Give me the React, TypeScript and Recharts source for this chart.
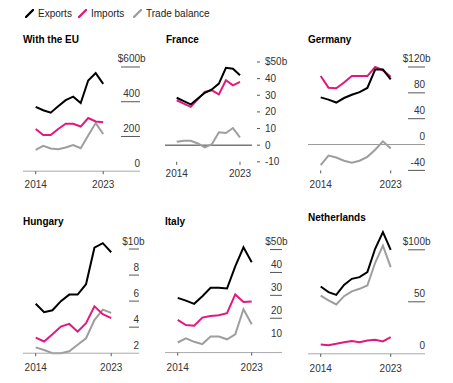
import { LineChart, Line, XAxis, YAxis, ReferenceLine } from 'recharts'

const FONT = '"Liberation Sans", Arial, Helvetica, sans-serif'

const EXPORT_COLOR = '#000000'
const IMPORT_COLOR = '#e2187f'
const BALANCE_COLOR = '#9e9e9e'

const YEARS = [2014, 2015, 2016, 2017, 2018, 2019, 2020, 2021, 2022, 2023]

// With the EU, $b
const EU_EXPORTS = [370, 351, 337, 374, 409, 429, 393, 522, 565, 503]
const EU_IMPORTS = [243, 208, 208, 243, 273, 273, 257, 306, 286, 282]
const EU_BALANCE = [123, 146, 131, 127, 136, 150, 132, 205, 277, 214]

// France
const FR_EXPORTS = [28.5, 26.5, 24.5, 28, 31.5, 33.5, 37, 46.5, 46, 42]
const FR_IMPORTS = [27, 25, 23, 27.5, 32, 33, 30.5, 39, 36, 38]
const FR_BALANCE = [2, 2.6, 2.6, 1, -1.4, 0.6, 7.7, 7.3, 10.3, 4.6]

// Germany
const DE_EXPORTS = [73, 69.5, 65, 72, 77, 81, 87.5, 116, 116, 101]
const DE_IMPORTS = [106, 88, 87, 96, 106, 106, 106, 120, 115, 105]
const DE_BALANCE = [-32, -17, -20, -25, -28, -25, -19, -8, 5, -6]

// Hungary
const HU_EXPORTS = [5.8, 5.15, 5.3, 6.0, 6.5, 6.5, 7.3, 10.1, 10.45, 9.75]
const HU_IMPORTS = [3.2, 2.9, 3.45, 4.05, 4.25, 3.65, 4.3, 5.6, 5.0, 4.7]
const HU_BALANCE = [2.45, 2.25, 2.0, 2.0, 2.15, 2.65, 3.15, 4.55, 5.35, 5.1]

// Italy
const IT_EXPORTS = [28.9, 27.7, 26.3, 29.6, 33.3, 33.3, 33, 42.7, 51, 44.5]
const IT_IMPORTS = [19.3, 17, 16.7, 20.3, 21, 21.3, 22.2, 30.4, 27.1, 27.3]
const IT_BALANCE = [9.4, 11.2, 9.7, 8.7, 12, 12, 10.8, 13, 23.9, 17.4]

// Netherlands
const NL_EXPORTS = [64.7, 59.3, 56.7, 66.3, 72.1, 73.7, 78.5, 101, 117, 100]
const NL_IMPORTS = [9, 8.3, 9.6, 11.2, 12.2, 11.2, 12.8, 13.5, 11.9, 16]
const NL_BALANCE = [56, 51.3, 47.4, 55.4, 60, 62.5, 65.7, 87.5, 104, 83.3]

const EU_TICKS = [0, 200, 400, 600]
const FR_TICKS = [-10, 0, 10, 20, 30, 40, 50]
const DE_TICKS = [-40, 0, 40, 80, 120]
const HU_TICKS = [2, 4, 6, 8, 10]
const IT_TICKS = [10, 20, 30, 40, 50]
const NL_TICKS = [0, 50, 100]

const X_TICKS = [2014, 2023]

const buildRows = (exp: number[], imp: number[], bal: number[]) =>
  YEARS.map((year, i) => ({ year, exports: exp[i], imports: imp[i], balance: bal[i] }))

interface PanelCfg {
  title: string
  titleX: number
  titleY: number
  rows: Array<{ year: number; exports: number; imports: number; balance: number }>
  ticks: number[]
  // layout in page pixels
  L: number
  R: number
  xa: number
  xb: number
  refVal: number
  refPx: number
  minVal: number
  botPx: number
  maxVal: number
  tickStyle: 'under' | 'dash'
  tickLen: number
  bare: number[]
  baseline: boolean
  zeroColor?: string
  labelGap: number
}

const PANELS: PanelCfg[] = [
  {
    title: 'With the EU', titleX: 23, titleY: 40,
    rows: buildRows(EU_EXPORTS, EU_IMPORTS, EU_BALANCE), ticks: EU_TICKS,
    L: 23, R: 140, xa: 35.7, xb: 103.2,
    refVal: 600, refPx: 67.3, minVal: 0, botPx: 171.5, maxVal: 600,
    tickStyle: 'under', tickLen: 19, bare: [0], baseline: true, labelGap: 13,
  },
  {
    title: 'France', titleX: 166, titleY: 39.5,
    rows: buildRows(FR_EXPORTS, FR_IMPORTS, FR_BALANCE), ticks: FR_TICKS,
    L: 165, R: 252, xa: 176.7, xb: 240,
    refVal: 50, refPx: 61.7, minVal: -10, botPx: 161.5, maxVal: 50,
    tickStyle: 'dash', tickLen: 3, bare: [], baseline: false, zeroColor: '#333', labelGap: 11.5,
  },
  {
    title: 'Germany', titleX: 308, titleY: 39.5,
    rows: buildRows(DE_EXPORTS, DE_IMPORTS, DE_BALANCE), ticks: DE_TICKS,
    L: 308, R: 425, xa: 320.7, xb: 390.7,
    refVal: 120, refPx: 67.3, minVal: -40, botPx: 170.7, maxVal: 120,
    tickStyle: 'under', tickLen: 17, bare: [0], baseline: false, zeroColor: '#999', labelGap: 14.3,
  },
  {
    title: 'Hungary', titleX: 23, titleY: 221.7,
    rows: buildRows(HU_EXPORTS, HU_IMPORTS, HU_BALANCE), ticks: HU_TICKS,
    L: 23, R: 139, xa: 35.7, xb: 111.2,
    refVal: 10, refPx: 249.3, minVal: 2, botPx: 353.5, maxVal: 11,
    tickStyle: 'under', tickLen: 10, bare: [2], baseline: true, labelGap: 14.5,
  },
  {
    title: 'Italy', titleX: 165, titleY: 221.7,
    rows: buildRows(IT_EXPORTS, IT_IMPORTS, IT_BALANCE), ticks: IT_TICKS,
    L: 165, R: 282, xa: 177.7, xb: 251.7,
    refVal: 50, refPx: 250, minVal: 5, botPx: 353, maxVal: 52,
    tickStyle: 'under', tickLen: 12, bare: [10], baseline: true, labelGap: 15,
  },
  {
    title: 'Netherlands', titleX: 308, titleY: 217.7,
    rows: buildRows(NL_EXPORTS, NL_IMPORTS, NL_BALANCE), ticks: NL_TICKS,
    L: 308, R: 425, xa: 320.7, xb: 390.7,
    refVal: 100, refPx: 249.3, minVal: 0, botPx: 353.3, maxVal: 120,
    tickStyle: 'under', tickLen: 17, bare: [0], baseline: true, labelGap: 14.7,
  },
]

const PAD_L = 15
const PAD_T = 20
const PAD_R = 44
const Y_W = 1
const X_H = 30

const Panel = ({ cfg }: { cfg: PanelCfg }) => {
  const ppu = (cfg.botPx - cfg.refPx) / (cfg.refVal - cfg.minVal)
  const plotTop = cfg.botPx - (cfg.maxVal - cfg.minVal) * ppu
  const ppy = (cfg.xb - cfg.xa) / 9
  const dMin = 2014 - (cfg.xa - cfg.L) / ppy
  const dMax = 2023 + (cfg.R - cfg.xb) / ppy
  const boxLeft = cfg.L - PAD_L
  const boxTop = plotTop - PAD_T
  const width = cfg.R - cfg.L + PAD_L + PAD_R + Y_W
  const height = cfg.botPx - plotTop + PAD_T + X_H
  const localR = PAD_L + (cfg.R - cfg.L)
  const topTick = cfg.ticks[cfg.ticks.length - 1]

  const renderYTick = (props: any) => {
    const { y, payload } = props
    const v = payload.value
    const isTop = v === topTick
    if (cfg.tickStyle === 'dash') {
      return (
        <g>
          <line x1={localR + 5} x2={localR + 8} y1={y} y2={y} stroke="#555" />
          <text x={localR + 13} y={y} dy="0.35em" fontSize={10} fill="#333" fontFamily={FONT}>
            {isTop ? `$${v}b` : `${v}`}
          </text>
        </g>
      )
    }
    return (
      <g>
        {!cfg.bare.includes(v) && (
          <line x1={localR - cfg.tickLen} x2={localR} y1={y} y2={y} stroke="#555" />
        )}
        <text x={localR} y={y - 4.5} textAnchor="end" fontSize={10} fill="#333" fontFamily={FONT}>
          {isTop ? `$${v}` : `${v}`}
        </text>
        {isTop && (
          <text x={localR} y={y - 4.5} fontSize={10} fill="#333" fontFamily={FONT}>
            b
          </text>
        )}
      </g>
    )
  }

  return (
    <>
      <div
        style={{
          position: 'absolute',
          left: cfg.titleX,
          top: cfg.titleY - 6,
          fontSize: 10,
          lineHeight: '12px',
          fontWeight: 'bold',
          color: '#000',
          whiteSpace: 'nowrap',
        }}
      >
        {cfg.title}
      </div>
      <div style={{ position: 'absolute', left: boxLeft, top: boxTop }}>
        <LineChart
          width={width}
          height={height}
          data={cfg.rows}
          margin={{ top: PAD_T, left: PAD_L, right: PAD_R, bottom: 0 }}
        >
          <XAxis
            type="number"
            dataKey="year"
            domain={[dMin, dMax]}
            ticks={X_TICKS}
            interval={0}
            height={X_H}
            axisLine={cfg.baseline ? { stroke: '#aaa' } : false}
            tickLine={{ stroke: '#555' }}
            tickSize={3}
            tickMargin={cfg.labelGap - 3 - 3.6}
            tick={{ fontSize: 10, fill: '#333', fontFamily: FONT }}
          />
          <YAxis
            orientation="right"
            width={Y_W}
            domain={[cfg.minVal, cfg.maxVal]}
            ticks={cfg.ticks}
            interval={0}
            axisLine={false}
            tickLine={false}
            tick={renderYTick}
          />
          {cfg.zeroColor && <ReferenceLine y={0} stroke={cfg.zeroColor} strokeWidth={1} />}
          <Line
            type="linear"
            dataKey="balance"
            stroke={BALANCE_COLOR}
            strokeWidth={2}
            dot={false}
            isAnimationActive={false}
          />
          <Line
            type="linear"
            dataKey="imports"
            stroke={IMPORT_COLOR}
            strokeWidth={2}
            dot={false}
            isAnimationActive={false}
          />
          <Line
            type="linear"
            dataKey="exports"
            stroke={EXPORT_COLOR}
            strokeWidth={2}
            dot={false}
            isAnimationActive={false}
          />
        </LineChart>
      </div>
    </>
  )
}

const LEGEND = [
  { label: 'Exports', color: EXPORT_COLOR, x: 25 },
  { label: 'Imports', color: IMPORT_COLOR, x: 78 },
  { label: 'Trade balance', color: BALANCE_COLOR, x: 133 },
]

export default function App() {
  return (
    <div
      style={{
        position: 'absolute',
        left: 0,
        top: 0,
        width: 453,
        height: 383,
        background: '#fff',
        fontFamily: FONT,
        overflow: 'hidden',
      }}
    >
      {LEGEND.map(item => (
        <div
          key={item.label}
          style={{
            position: 'absolute',
            left: item.x,
            top: 6,
            display: 'flex',
            alignItems: 'center',
            height: 14,
            fontSize: 10,
            color: '#222',
            whiteSpace: 'nowrap',
          }}
        >
          <svg width={9} height={9} style={{ marginRight: 4 }}>
            <line x1={1} y1={8} x2={8} y2={1} stroke={item.color} strokeWidth={2.4} strokeLinecap="round" />
          </svg>
          {item.label}
        </div>
      ))}
      {PANELS.map(p => (
        <Panel key={p.title} cfg={p} />
      ))}
    </div>
  )
}
